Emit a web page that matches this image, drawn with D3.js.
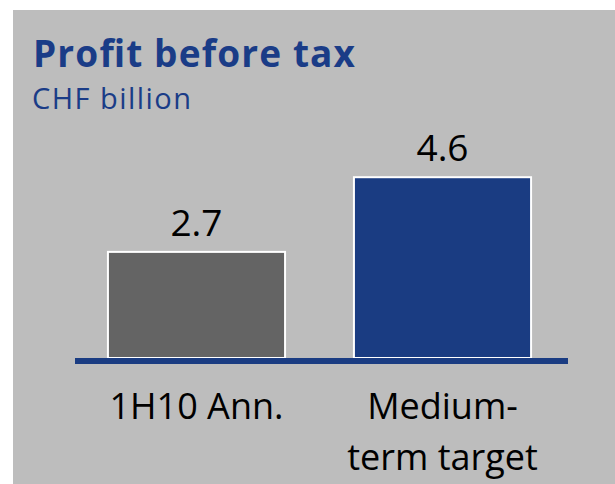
<!DOCTYPE html>
<html>
<head>
<meta charset="utf-8">
<script src="https://cdn.jsdelivr.net/npm/d3@7/dist/d3.min.js"></script>
<style>
  html, body { margin: 0; padding: 0; background: #ffffff; }
  svg { display: block; }
  text { font-family: "Open Sans", "Noto Sans", sans-serif; }
</style>
</head>
<body>
<script>
// Profit before tax, CHF billion
const categories = ["1H10 Ann.", "Medium-term target"];
const categoryLines = [["1H10 Ann."], ["Medium-", "term target"]];
const values = [2.7, 4.6];
const valueLabels = ["2.7", "4.6"];
const barColors = ["#646464", "#1a3c82"];

const W = 615, H = 484;
const svg = d3.select("body").append("svg")
  .attr("width", W).attr("height", H);

// grey panel
svg.append("rect")
  .attr("x", 13).attr("y", 10)
  .attr("width", W - 13).attr("height", H - 10)
  .attr("fill", "#bdbdbd");

// title block
svg.append("text")
  .attr("x", 33).attr("y", 67)
  .attr("fill", "#1a3c87")
  .attr("font-weight", 700)
  .attr("font-size", 37)
  .attr("textLength", 322)
  .attr("lengthAdjust", "spacing")
  .text("Profit before tax");

svg.append("text")
  .attr("x", 32).attr("y", 109)
  .attr("fill", "#1a3c87")
  .attr("font-size", 29)
  .attr("textLength", 159)
  .attr("lengthAdjust", "spacing")
  .text("CHF billion");

const baseY = 358;

const x = d3.scaleBand()
  .domain(categories)
  .range([73, 566])
  .paddingInner(0.28)
  .paddingOuter(0.142);

const y = d3.scaleLinear()
  .domain([0, 5])
  .range([baseY, baseY - 196.5]);

const data = categories.map((c, i) => ({ c, v: values[i], label: valueLabels[i], color: barColors[i], lines: categoryLines[i] }));

// bars
svg.append("g").selectAll("rect")
  .data(data)
  .join("rect")
  .attr("x", d => x(d.c))
  .attr("y", d => y(d.v))
  .attr("width", x.bandwidth())
  .attr("height", d => y(0) - y(d.v))
  .attr("fill", d => d.color)
  .attr("stroke", "#ffffff")
  .attr("stroke-width", 2);

// value labels
svg.append("g").selectAll("text")
  .data(data)
  .join("text")
  .attr("x", d => x(d.c) + x.bandwidth() / 2)
  .attr("y", d => y(d.v) - 16)
  .attr("text-anchor", "middle")
  .attr("font-size", 37)
  .attr("fill", "#000000")
  .text(d => d.label);

// baseline
svg.append("rect")
  .attr("x", 75).attr("y", baseY)
  .attr("width", 568 - 75).attr("height", 6)
  .attr("fill", "#1a3c82");

// category labels
const cat = svg.append("g").selectAll("text")
  .data(data)
  .join("text")
  .attr("text-anchor", "middle")
  .attr("font-size", 36)
  .attr("fill", "#000000");

cat.selectAll("tspan")
  .data(d => d.lines.map((t, j) => ({ t, j, cx: x(d.c) + x.bandwidth() / 2 })))
  .join("tspan")
  .attr("x", d => d.cx)
  .attr("y", d => 419 + d.j * 51)
  .text(d => d.t);
</script>
</body>
</html>
